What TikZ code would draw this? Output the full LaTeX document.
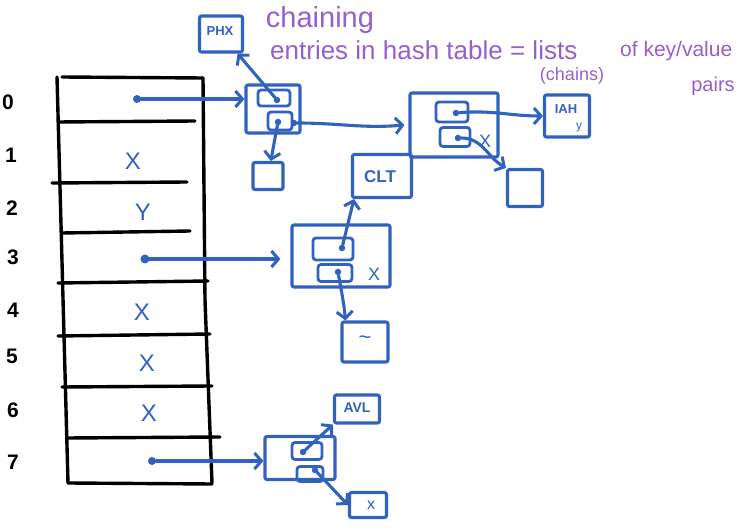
\documentclass[tikz,border=0pt]{standalone}
\usepackage{fontspec}
\setmainfont{Liberation Sans}
\usetikzlibrary{arrows.meta}
\definecolor{blu}{RGB}{48,98,190}
\definecolor{purp}{RGB}{150,95,205}
\begin{document}
\begin{tikzpicture}[x=1pt,y=-1pt,
  tbl/.style={line width=3.4pt, line cap=round},
  bx/.style={draw=blu, line width=3.1pt, rectangle, inner sep=0pt, text=blu, rounded corners=2pt},
  sz/.style 2 args={minimum width=#1pt, minimum height=#2pt},
  cell/.style={draw=blu, line width=2.8pt, rectangle, inner sep=0pt, rounded corners=3pt},
  dot/.style={circle, fill=blu, inner sep=0pt, minimum size=6.5pt},
  arr/.style={draw=blu, line width=3.1pt, line cap=round, -{Straight Barb[length=7pt,width=16pt,line width=3pt]}},
  lbl/.style={font=\fontsize{21}{21}\selectfont\bfseries},
  ent/.style={text=blu, font=\fontsize{24}{24}\selectfont, inner sep=0pt},
  smalltxt/.style={text=blu, font=\fontsize{13}{13}\selectfont\bfseries},
  note/.style={text=purp, inner sep=0pt}
]
\useasboundingbox (0,0) rectangle (745,529);

% ---- hash table ----
\draw[tbl] (57,77) -- (68,483);
\draw[tbl] (203,78) -- (205,300) -- (212,483);
\draw[tbl] (62,77) -- (203,78);
\draw[tbl] (58,122) -- (195,121);
\draw[tbl] (52,183) -- (187,182);
\draw[tbl] (62,233) -- (190,231);
\draw[tbl] (58,283) -- (208,281);
\draw[tbl] (58,336) -- (210,334);
\draw[tbl] (62,387) -- (212,386);
\draw[tbl] (67,438) -- (220,437);
\draw[tbl] (68,483) -- (212,484);

\node[lbl] (l0) at (8,102) {0};
\node[lbl] (l1) at (11,155) {1};
\node[lbl] (l2) at (12,208) {2};
\node[lbl] (l3) at (13,257) {3};
\node[lbl] (l4) at (13,310) {4};
\node[lbl] (l5) at (12,356) {5};
\node[lbl] (l6) at (13,410) {6};
\node[lbl] (l7) at (13,462) {7};

\node[dot, minimum size=8pt] (r0) at (137,99) {};
\node[ent] (r1) at (133,161) {X};
\node[ent] (r2) at (143,212) {Y};
\node[dot, minimum size=9pt] (r3) at (145,259) {};
\node[ent] (r4) at (142,312) {X};
\node[ent] (r5) at (147,363) {X};
\node[ent] (r6) at (149,413) {X};
\node[dot, minimum size=8pt] (r7) at (152,461) {};

% ---- chain of row 0 ----
\node[bx, sz={43}{36}] (phx) at (221,34) {};
\node[smalltxt] (phxt) at (220,31) {PHX};
\node[bx, sz={54}{48}] (A) at (273,109) {};
\node[cell, sz={32}{16}] (A1) at (274,98) {};
\node[dot] (a1d) at (277,100) {};
\node[cell, sz={24}{18}] (A2) at (280,121) {};
\node[dot] (a2d) at (278,122) {};
\node[dot] (a3d) at (294,123) {};
\node[bx, sz={30}{27}] (e1) at (268,176) {};

\node[bx, sz={88}{64}] (B) at (454,125) {};
\node[cell, sz={32}{20}] (B1) at (452,112) {};
\node[dot] (b1d) at (456,113) {};
\node[cell, sz={30}{19}] (B2) at (455,137) {};
\node[dot] (b2d) at (458,138) {};
\node[text=blu, font=\fontsize{18}{18}\selectfont] (bx) at (485,141) {X};
\node[bx, sz={45}{42}] (iah) at (567,116) {};
\node[smalltxt] (iaht) at (566,109) {IAH};
\node[text=blu, font=\fontsize{12}{12}\selectfont] (iahy) at (579,128) {y};
\node[bx, sz={35}{37}] (e2) at (525,188) {};

\draw[arr] (r0) -- (r0 -| A.west);
\draw[arr] (a1d) -- (phx);
\draw[arr] (a2d) -- (e1);
\draw[arr] (a3d) to[out=0, in=185] ([xshift=-4pt]B.west);
\draw[arr] (b1d) to[out=5, in=180] (iah.west);
\draw[arr] (b2d) to[out=0, in=150] (e2.north west);

% ---- chain of row 3 ----
\node[bx, sz={59}{43}] (clt) at (382,176) {};
\node[text=blu, font=\fontsize{17}{17}\selectfont\bfseries] (cltt) at (380,177) {CLT};
\node[bx, sz={98}{62}] (C) at (341,256) {};
\node[cell, sz={40}{22}] (C1) at (333,249) {};
\node[dot] (c1d) at (342,248) {};
\node[cell, sz={34}{17}] (C2) at (335,273) {};
\node[dot] (c2d) at (338,272) {};
\node[text=blu, font=\fontsize{18}{18}\selectfont] (cx) at (374,274) {X};
\node[bx, sz={46}{40}] (tl) at (365,342) {};
\node[text=blu, font=\fontsize{22}{22}\selectfont] (tlt) at (365,340) {\textasciitilde};

\draw[arr] (r3) -- ([xshift=-10pt]r3 -| C.west);
\draw[arr] (c1d) -- ([xshift=3pt]clt.south west);
\draw[arr] (c2d) to[out=-80, in=95] ([xshift=5pt]tl.north west);

% ---- chain of row 7 ----
\node[bx, sz={45}{28}] (avl) at (357,409) {};
\node[smalltxt, font=\fontsize{14}{14}\selectfont\bfseries] (avlt) at (357,408) {AVL};
\node[bx, sz={70}{43}] (D) at (300,458) {};
\node[cell, sz={30}{17}] (D1) at (307,451) {};
\node[dot] (d1d) at (303,452) {};
\node[cell, sz={26}{15}] (D2) at (310,474) {};
\node[dot] (d2d) at (315,470) {};
\node[bx, sz={37}{25}] (xb) at (368,505) {};
\node[text=blu, font=\fontsize{16}{16}\selectfont] (xbt) at (371,505) {x};

\draw[arr] (r7) -- (r7 -| D.west);
\draw[arr] (d1d) -- (avl.south west);
\draw[arr] (d2d) -- (xb.west);

% ---- notes ----
\node[note, font=\fontsize{29}{29}\selectfont] (n1) at (320,20) {chaining};
\node[note, font=\fontsize{26}{26}\selectfont, anchor=west] (n2) at (270,50) {entries in hash table = lists};
\node[note, font=\fontsize{18}{18}\selectfont] (n3) at (572,76) {(chains)};
\node[note, font=\fontsize{21}{21}\selectfont, anchor=west] (n4) at (620,51) {of key/value};
\node[note, font=\fontsize{20}{20}\selectfont] (n5) at (713,86) {pairs};
\end{tikzpicture}
\end{document}
